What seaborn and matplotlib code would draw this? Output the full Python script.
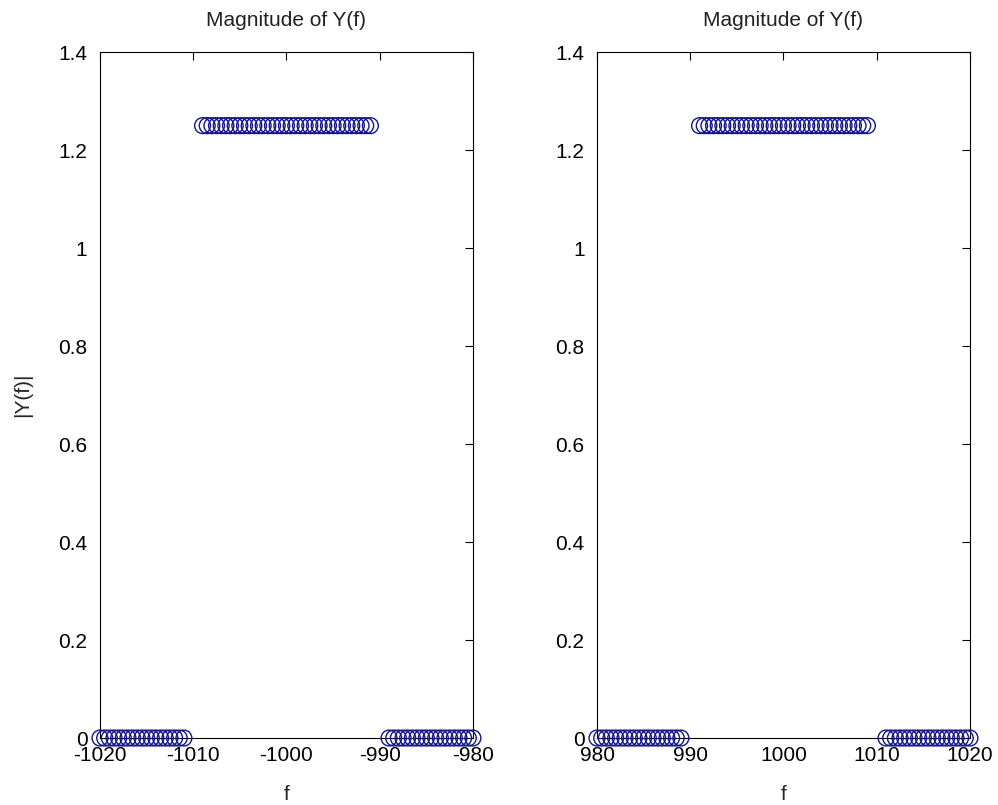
import numpy as np
import pandas as pd
import matplotlib
matplotlib.use('Agg')
import matplotlib.pyplot as plt
import seaborn as sns

# spectrum samples (0.5 Hz grid, positive side)
f_low = [980.0, 980.5, 981.0, 981.5, 982.0, 982.5, 983.0, 983.5, 984.0, 984.5,
         985.0, 985.5, 986.0, 986.5, 987.0, 987.5, 988.0, 988.5, 989.0]
f_band = [991.0, 991.5, 992.0, 992.5, 993.0, 993.5, 994.0, 994.5, 995.0, 995.5,
          996.0, 996.5, 997.0, 997.5, 998.0, 998.5, 999.0, 999.5, 1000.0,
          1000.5, 1001.0, 1001.5, 1002.0, 1002.5, 1003.0, 1003.5, 1004.0, 1004.5,
          1005.0, 1005.5, 1006.0, 1006.5, 1007.0, 1007.5, 1008.0, 1008.5, 1009.0]
f_high = [1011.0, 1011.5, 1012.0, 1012.5, 1013.0, 1013.5, 1014.0, 1014.5, 1015.0,
          1015.5, 1016.0, 1016.5, 1017.0, 1017.5, 1018.0, 1018.5, 1019.0,
          1019.5, 1020.0]
band_mag = 1.25

pos_f = f_low + f_band + f_high
pos_mag = [0.0] * len(f_low) + [band_mag] * len(f_band) + [0.0] * len(f_high)
# |Y(-f)| = |Y(f)|
neg_f = [-v for v in pos_f]

df_pos = pd.DataFrame({'f': pos_f, 'mag': pos_mag})
df_neg = pd.DataFrame({'f': neg_f, 'mag': pos_mag})

y_ticks = [0, 0.2, 0.4, 0.6, 0.8, 1, 1.2, 1.4]
y_labels = ['0', '0.2', '0.4', '0.6', '0.8', '1', '1.2', '1.4']
x_ticks_neg = [-1020, -1010, -1000, -990, -980]
x_ticks_pos = [980, 990, 1000, 1010, 1020]

sns.set_style('white')
plt.rcParams['font.family'] = ['Liberation Sans', 'DejaVu Sans']

fig = plt.figure(figsize=(9.98, 8.05), dpi=100)
ax1 = fig.add_axes([0.1002, 0.0832, 0.3737, 0.852])
ax2 = fig.add_axes([0.5982, 0.0832, 0.3737, 0.852])

for ax, data, xt in [(ax1, df_neg, x_ticks_neg), (ax2, df_pos, x_ticks_pos)]:
    sns.scatterplot(data=data, x='f', y='mag', ax=ax, marker='o', s=130,
                    facecolor='none', edgecolor='#14148f', linewidth=1.0,
                    clip_on=False, zorder=3)
    ax.set_xlim(xt[0], xt[-1])
    ax.set_ylim(0, 1.4)
    ax.set_xticks(xt)
    ax.set_xticklabels([str(v) for v in xt])
    ax.set_yticks(y_ticks)
    ax.set_yticklabels(y_labels)
    ax.tick_params(direction='in', length=6, width=0.8, top=True, right=True,
                   labelsize=15, colors='black')
    ax.tick_params(axis='x', pad=6)
    ax.tick_params(axis='y', pad=9)
    for sp in ax.spines.values():
        sp.set_color('black')
        sp.set_linewidth(0.8)
    ax.set_title('Magnitude of Y(f)', fontsize=15, pad=19, color='#222222')
    ax.set_xlabel('f', fontsize=15, labelpad=14)
    ax.set_ylabel('')

ax1.set_ylabel('|Y(f)|', fontsize=15, labelpad=19)

fig.savefig('out.png', dpi=100, facecolor='white')
